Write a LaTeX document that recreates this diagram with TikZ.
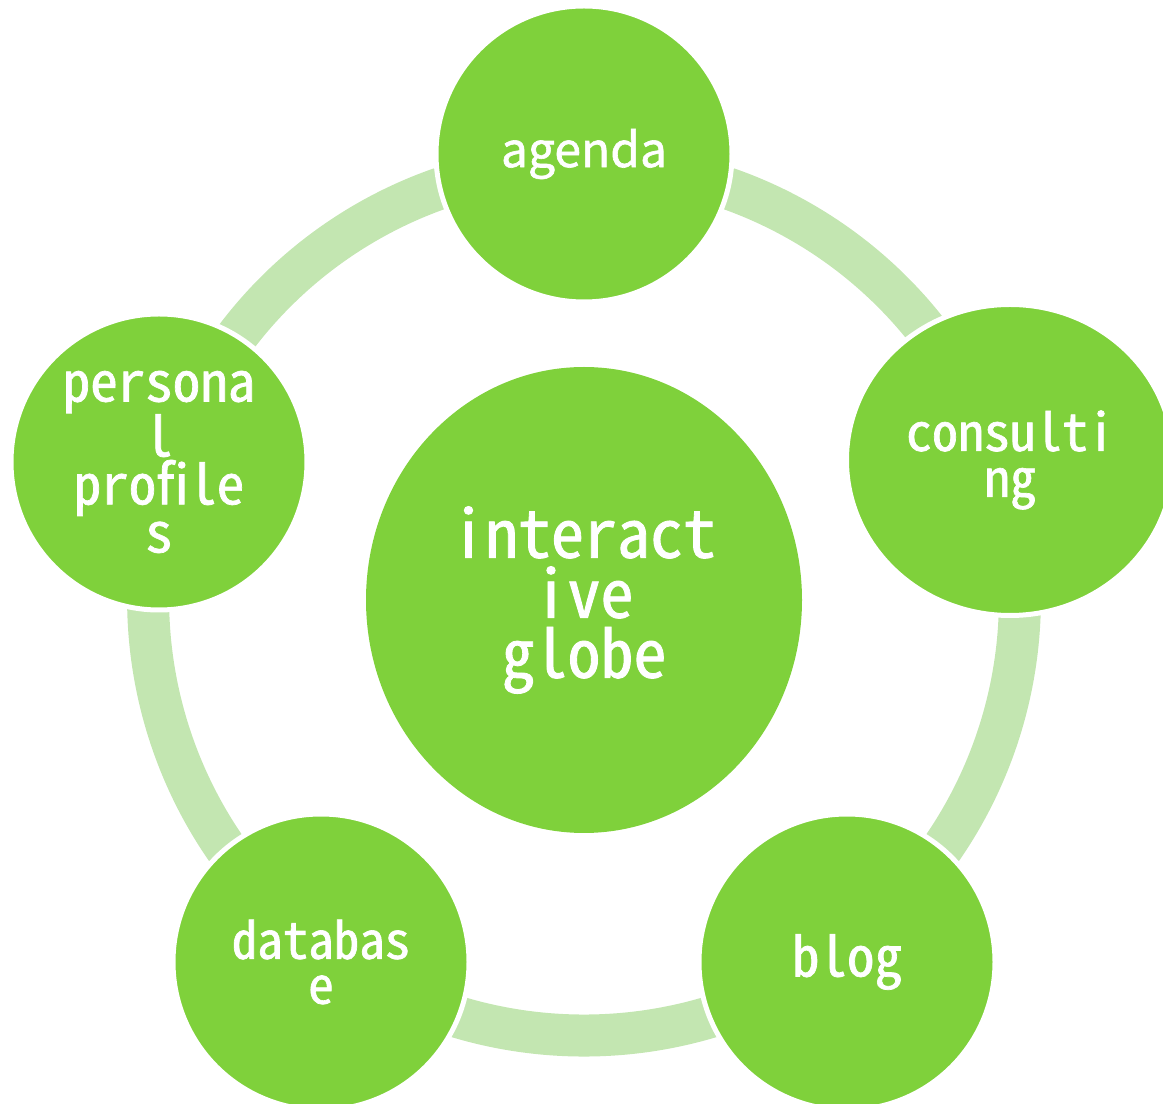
\documentclass[tikz,border=0pt]{standalone}
\usepackage{fontspec}
\newfontfamily\halffont[RawFeature=+hwid,FakeBold=1.3]{Noto Sans CJK JP}
\newfontfamily\plainfont[FakeBold=1.3]{Noto Sans CJK JP}
\usetikzlibrary{shapes}
\definecolor{leaf}{HTML}{7FD13B}
\definecolor{leaflight}{HTML}{C3E6B1}

\begin{document}
\begin{tikzpicture}[x=1pt,y=1pt]
\tikzstyle{band}=[draw=leaflight,line width=42]
\tikzstyle{bubble}=[circle,fill=leaf,draw=white,line width=5,minimum size=296,inner sep=0,text=white,align=center,font=\halffont\fontsize{52}{46}\selectfont]
\tikzstyle{hub}=[ellipse,fill=leaf,minimum width=436,minimum height=466,inner sep=0,text=white,align=center,font=\halffont\fontsize{66}{60}\selectfont]
\useasboundingbox (0,0) rectangle (1163,1104);
\clip (0,0) rectangle (1163,1104);
\coordinate (ag) at (584,940);
\coordinate (pe) at (169.3,638.7);
\coordinate (da) at (327.7,151.3);
\coordinate (bl) at (840.3,151.3);
\coordinate (co) at (998.7,638.7);
\foreach \a/\b in {ag/pe,pe/da,da/bl,bl/co,co/ag}
  \draw[band] (\a) to[bend right=36,looseness=0.94] (\b);
\node[hub] (globe) at (584,504) {interact\\ive\\globe};
\node[bubble,font=\plainfont\fontsize{48}{46}\selectfont] (agenda) at (584,950) {agenda};
\node[bubble,ellipse,minimum width=327,minimum height=311] (consulting) at (1010,644) {consulti\\ng};
\node[bubble,font=\halffont\fontsize{55}{48}\selectfont] (personal) at (159,642) {persona\\l\\profile\\s};
\node[bubble,font=\halffont\fontsize{51}{45}\selectfont] (database) at (321,142) {databas\\e};
\node[bubble,font=\halffont\fontsize{55}{50}\selectfont] (blog) at (847,142) {blog};
\end{tikzpicture}
\end{document}
